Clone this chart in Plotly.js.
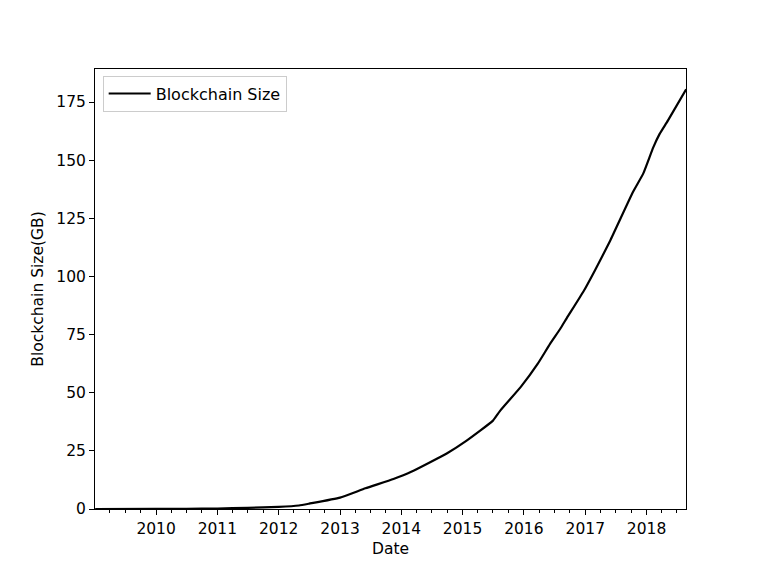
<!DOCTYPE html>
<html>
<head>
<meta charset="utf-8">
<script src="https://cdn.plot.ly/plotly-3.0.1.min.js"></script>
<style>
  html, body { margin: 0; padding: 0; background: #fff; }
  #chart { width: 763px; height: 572px; }
</style>
</head>
<body>
<div id="chart"></div>
<script>
// Blockchain size over time
const dates = [
    '2009-01-03', '2010-01-01', '2010-07-01', '2011-01-01', '2011-07-01',
    '2012-01-01', '2012-05-01', '2012-07-01', '2013-01-01', '2013-06-01',
    '2013-11-15', '2014-03-01', '2014-10-01', '2015-01-25', '2015-07-01',
    '2015-08-10', '2015-12-15', '2016-03-25', '2016-06-05', '2016-08-05',
    '2016-09-12', '2016-12-20', '2017-02-28', '2017-05-30', '2017-10-12',
    '2017-12-12', '2018-02-10', '2018-03-20', '2018-05-08', '2018-08-25'
];
const sizeGB = [
    0, 0.02, 0.05, 0.2, 0.5,
    0.9, 1.5, 2.3, 4.9, 8.9,
    12.9, 16, 24, 29.4, 38,
    42, 52.6, 62.6, 71, 77.5,
    82, 93.4, 102.7, 115.5, 136.3,
    144.2, 155.5, 161.3, 167, 180.5
];

const font = { family: 'DejaVu Sans', size: 15.5, color: '#000' };

const trace = {
    x: dates,
    y: sizeGB,
    mode: 'lines',
    type: 'scatter',
    name: 'Blockchain Size',
    line: { color: '#000', width: 2.2, shape: 'spline', smoothing: 0.4 }
};

const layout = {
    width: 763,
    height: 572,
    margin: { l: 95, r: 77, t: 69, b: 63 },
    paper_bgcolor: '#fff',
    plot_bgcolor: '#fff',
    font: font,
    showlegend: true,
    legend: {
        x: 0.013, y: 0.985, xanchor: 'left', yanchor: 'top',
        bordercolor: '#ccc', borderwidth: 1,
        bgcolor: 'rgba(255,255,255,0.8)',
        itemwidth: 42,
        font: { family: 'DejaVu Sans', size: 16, color: '#000' }
    },
    xaxis: {
        type: 'date',
        range: ['2009-01-02', '2018-08-24'],
        tick0: '2010-01-01',
        dtick: 'M12',
        tickformat: '%Y',
        ticks: 'outside',
        ticklen: 5,
        tickcolor: '#000',
        showgrid: false,
        zeroline: false,
        showline: true,
        linecolor: '#000',
        linewidth: 1,
        mirror: true,
        minor: { ticks: 'outside', ticklen: 3, tickcolor: '#000', dtick: 'M3', tick0: '2010-01-01', showgrid: false },
        title: { text: 'Date', font: font, standoff: 6 }
    },
    yaxis: {
        range: [0, 189.2],
        tick0: 0,
        dtick: 25,
        ticks: 'outside',
        ticklen: 5,
        tickcolor: '#000',
        showgrid: false,
        zeroline: false,
        showline: true,
        linecolor: '#000',
        linewidth: 1,
        mirror: true,
        title: { text: 'Blockchain Size(GB)', font: font, standoff: 8 }
    }
};

Plotly.newPlot('chart', [trace], layout, { displayModeBar: false, staticPlot: true });
</script>
</body>
</html>
